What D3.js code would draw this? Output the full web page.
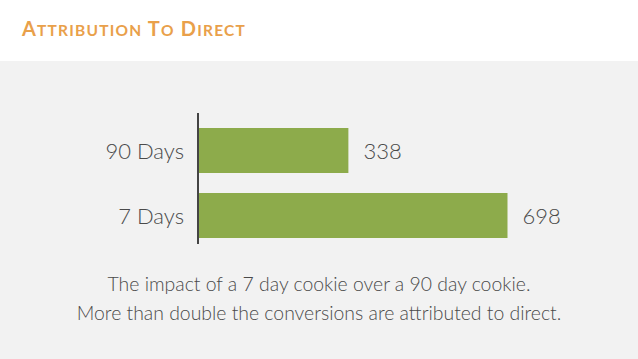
<!DOCTYPE html>
<html>
<head>
<meta charset="utf-8">
<script src="https://cdn.jsdelivr.net/npm/d3@7"></script>
<style>
html,body{margin:0;padding:0;background:#fff;}
svg{display:block;}
</style>
</head>
<body>
<svg id="chart" width="638" height="359"></svg>
<script>
const categories = ["90 Days", "7 Days"];
const values = [338, 698];
const titleText = "Attribution To Direct";
const captionLines = [
  "The impact of a 7 day cookie over a 90 day cookie.",
  "More than double the conversions are attributed to direct."
];

const W = 638, H = 359;
const svg = d3.select("#chart");
const font = "Lato, 'Noto Sans', sans-serif";

svg.append("rect").attr("x",0).attr("y",0).attr("width",W).attr("height",61).attr("fill","#ffffff");
svg.append("rect").attr("x",0).attr("y",61).attr("width",W).attr("height",H-61).attr("fill","#f2f2f2");

// Title in small caps
const title = svg.append("text").attr("x",22).attr("y",36)
  .attr("fill","#e9a04a").attr("font-family",font).attr("font-weight",700)
  .attr("letter-spacing",1.2);
titleText.split(" ").forEach((word,i)=>{
  title.append("tspan").attr("font-size",20).text((i>0?" ":"")+word[0].toUpperCase());
  title.append("tspan").attr("font-size",15.5).text(word.slice(1).toUpperCase());
});

const x = d3.scaleLinear().domain([0, 698]).range([199, 507.5]);
const y = d3.scaleBand().domain(categories).range([118, 248]).paddingInner(20/65).paddingOuter(10/65);

svg.append("g").selectAll("rect").data(categories).join("rect")
  .attr("x", x(0))
  .attr("y", d=>y(d))
  .attr("width", (d,i)=>x(values[i])-x(0))
  .attr("height", y.bandwidth())
  .attr("fill","#8dab4b");

// axis line
svg.append("line").attr("x1",198).attr("x2",198).attr("y1",113).attr("y2",244)
  .attr("stroke","#444").attr("stroke-width",2);

// category labels
svg.append("g").selectAll("text").data(categories).join("text")
  .attr("x",184).attr("y",d=>y(d)+y.bandwidth()/2+8)
  .attr("text-anchor","end").attr("font-family",font).attr("font-size",22).attr("font-weight",300)
  .attr("fill","#4a4a4a").text(d=>d);

// value labels
svg.append("g").selectAll("text").data(categories).join("text")
  .attr("x",(d,i)=>x(values[i])+15).attr("y",d=>y(d)+y.bandwidth()/2+8)
  .attr("font-family",font).attr("font-size",22).attr("font-weight",300)
  .attr("fill","#4a4a4a").text((d,i)=>values[i]);

// caption
svg.append("g").selectAll("text").data(captionLines).join("text")
  .attr("x",319).attr("y",(d,i)=>291+i*29)
  .attr("text-anchor","middle").attr("font-family",font).attr("font-size",19.4).attr("font-weight",300)
  .attr("fill","#4a4a4a").text(d=>d);
</script>
</body>
</html>
